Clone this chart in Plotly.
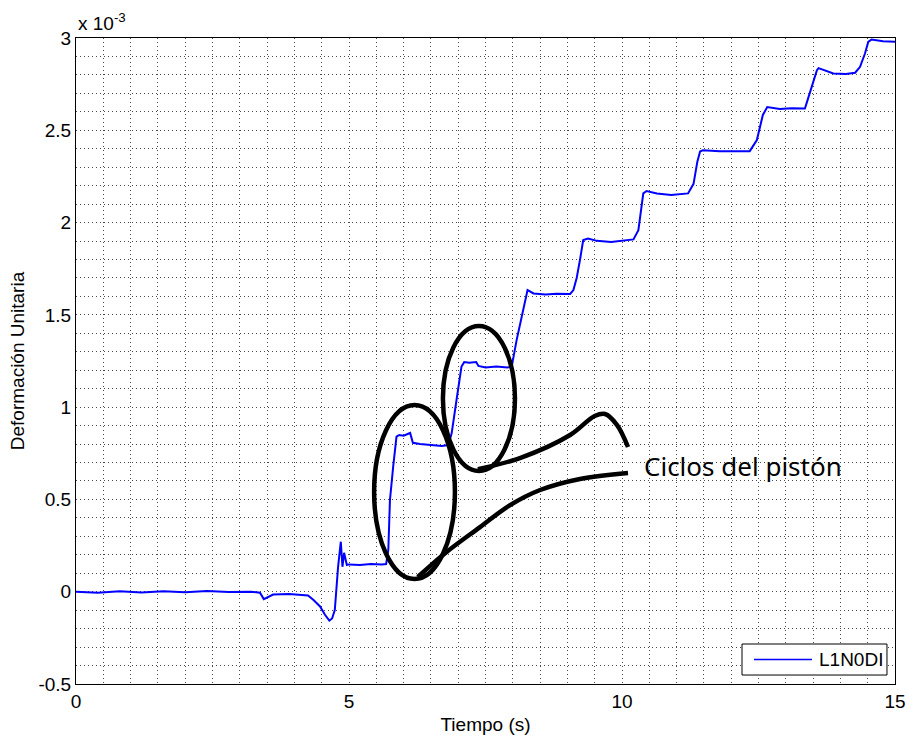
import plotly.graph_objects as go

# ---- data (strain in units of 1e-3) ----
time_s = [
    0, 0.4, 0.8, 1.2, 1.6, 2.0, 2.4, 2.8, 3.2, 3.37, 3.44, 3.52, 3.61, 3.9, 4.1, 4.25,
    4.35, 4.47, 4.56, 4.64, 4.69, 4.74, 4.80, 4.85, 4.88, 4.91, 4.96, 5.0, 5.2, 5.4, 5.6,
    5.68, 5.72, 5.75, 5.81, 5.87, 5.92, 6.0, 6.12, 6.17, 6.3, 6.5, 6.7, 6.82,
    6.88, 6.97, 7.06, 7.11, 7.2, 7.33, 7.37, 7.5, 7.7, 7.9, 7.98,
    8.07, 8.19, 8.27, 8.38, 8.6, 8.8, 9.05,
    9.11, 9.17, 9.23, 9.29, 9.38, 9.54, 9.8, 10.0, 10.21,
    10.30, 10.35, 10.39, 10.45, 10.64, 10.9, 11.21,
    11.31, 11.38, 11.43, 11.48, 11.79, 12.1, 12.34,
    12.47, 12.58, 12.66, 12.89, 13.1, 13.35,
    13.38, 13.47, 13.57, 13.60, 13.87, 14.1, 14.27,
    14.36, 14.45, 14.51, 14.57, 14.78, 15.0,
]
strain_e3 = [
    0, -0.005, 0.003, -0.004, 0.002, -0.003, 0.004, -0.002, 0, -0.005, -0.04, -0.03, -0.015, -0.012, -0.015, -0.02,
    -0.045, -0.08, -0.125, -0.157, -0.145, -0.1, 0.135, 0.271, 0.135, 0.211, 0.145, 0.148, 0.145, 0.15, 0.147,
    0.15, 0.226, 0.497, 0.68, 0.84, 0.849, 0.845, 0.86, 0.807, 0.8, 0.795, 0.79, 0.795,
    0.858, 1.04, 1.22, 1.244, 1.24, 1.244, 1.223, 1.215, 1.22, 1.215, 1.219,
    1.363, 1.526, 1.634, 1.616, 1.61, 1.615, 1.613,
    1.634, 1.70, 1.797, 1.905, 1.914, 1.901, 1.895, 1.9, 1.909,
    1.959, 2.06, 2.158, 2.171, 2.158, 2.15, 2.158,
    2.21, 2.33, 2.385, 2.392, 2.387, 2.385, 2.387,
    2.447, 2.583, 2.626, 2.615, 2.62, 2.618,
    2.646, 2.736, 2.826, 2.837, 2.808, 2.805, 2.812,
    2.844, 2.916, 2.979, 2.992, 2.983, 2.98,
]
series_name = "L1N0DI"

# hand-drawn annotation strokes (data coordinates)
upper_curve_t = [7.36, 8.13, 9.05, 9.50, 9.69, 9.91, 10.11]
upper_curve_y = [0.664, 0.724, 0.849, 0.952, 0.963, 0.903, 0.784]
lower_curve_t = [6.26, 6.76, 7.40, 7.95, 8.50, 9.23, 10.11]
lower_curve_y = [0.080, 0.209, 0.350, 0.469, 0.551, 0.611, 0.643]
ellipse_lower = (5.46, 6.94, 0.069, 1.011)
ellipse_upper = (6.72, 8.04, 0.654, 1.439)
callout_text = "Ciclos del pistón"
callout_pos = (10.36, 0.68)

x_ticks = [0, 5, 10, 15]
y_ticks = [-0.5, 0, 0.5, 1, 1.5, 2, 2.5, 3]
y_ticktext = ["-0.5", "0", "0.5", "1", "1.5", "2", "2.5", "3"]

FONT = "Liberation Sans, Arial, sans-serif"
GRID = "#4a4a4a"
DASH = "1px,3px"
LINE_BLUE = "#0000ff"

fig = go.Figure()
fig.add_trace(go.Scatter(x=time_s, y=strain_e3, mode="lines", name=series_name,
                         showlegend=False, line=dict(color=LINE_BLUE, width=2)))
for tx, ty in [(upper_curve_t, upper_curve_y), (lower_curve_t, lower_curve_y)]:
    fig.add_trace(go.Scatter(x=tx, y=ty, mode="lines", showlegend=False, hoverinfo="skip",
                             line=dict(color="black", width=4.5, shape="spline")))

for (x0, x1, y0, y1) in [ellipse_lower, ellipse_upper]:
    fig.add_shape(type="circle", xref="x", yref="y", x0=x0, x1=x1, y0=y0, y1=y1,
                  line=dict(color="black", width=4.5))

fig.add_annotation(x=callout_pos[0], y=callout_pos[1], xref="x", yref="y", text=callout_text,
                   showarrow=False, xanchor="left", yanchor="middle",
                   font=dict(family="Noto Sans", size=26, color="black"))
fig.add_annotation(x=0, y=1, xref="paper", yref="paper", text="x 10<sup>-3</sup>",
                   showarrow=False, xanchor="left", yanchor="bottom", yshift=2,
                   font=dict(family=FONT, size=19, color="black"))

# legend box (MATLAB style, bottom-right corner)
lg_x0, lg_x1, lg_y0, lg_y1 = 0.8132, 0.9902, 0.0139, 0.0619
lg_ym = (lg_y0 + lg_y1) / 2
fig.add_shape(type="rect", xref="paper", yref="paper", x0=lg_x0, x1=lg_x1, y0=lg_y0, y1=lg_y1,
              line=dict(color="black", width=1), fillcolor="white", layer="above")
fig.add_shape(type="line", xref="paper", yref="paper", x0=0.8278, x1=0.8986, y0=lg_ym, y1=lg_ym,
              line=dict(color=LINE_BLUE, width=1.6), layer="above")
fig.add_annotation(x=0.9045, y=lg_ym, xref="paper", yref="paper", text=series_name,
                   showarrow=False, xanchor="left", yanchor="middle",
                   font=dict(family=FONT, size=19, color="black"))

fig.update_layout(
    width=908, height=738,
    margin=dict(l=76, r=13, t=38, b=54, autoexpand=False),
    paper_bgcolor="white", plot_bgcolor="white",
    font=dict(family=FONT, size=19, color="black"),
    showlegend=False,
)
fig.update_xaxes(
    range=[0, 15], tickvals=x_ticks, ticks="", showline=True, linecolor="black", linewidth=1,
    mirror=True, showgrid=True, gridcolor=GRID, griddash=DASH, gridwidth=1, zeroline=False,
    automargin=False,
    minor=dict(dtick=0.5, showgrid=True, gridcolor=GRID, griddash=DASH, gridwidth=1),
    title=dict(text="Tiempo (s)", font=dict(size=19), standoff=6),
    tickfont=dict(size=19),
)
fig.update_yaxes(
    range=[-0.5, 3], tickvals=y_ticks, ticktext=y_ticktext, ticks="", showline=True,
    linecolor="black", linewidth=1, mirror=True, showgrid=True, gridcolor=GRID, griddash=DASH,
    gridwidth=1, zeroline=False, automargin=False,
    minor=dict(dtick=0.1, showgrid=True, gridcolor=GRID, griddash=DASH, gridwidth=1),
    title=dict(text="Deformación Unitaria", font=dict(size=19), standoff=8),
    tickfont=dict(size=19),
)

fig.write_html("out.html")
